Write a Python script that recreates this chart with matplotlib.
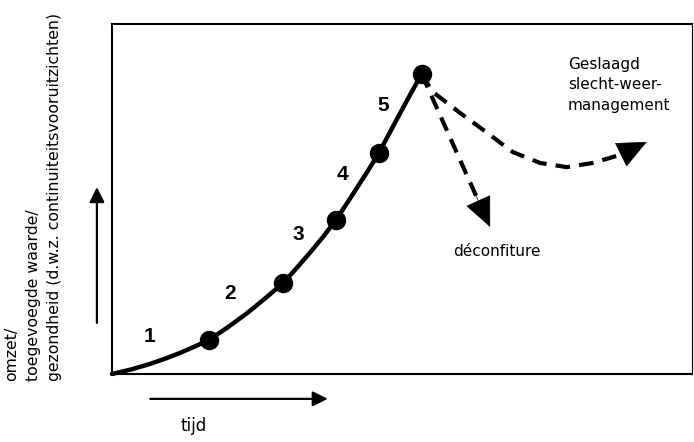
import matplotlib
matplotlib.use("Agg")
import matplotlib.pyplot as plt

# groeicurve (tijd, gezondheid) in willekeurige eenheden 0..10
curve_t = [0.0, 0.33, 0.66, 0.92, 1.17, 1.42, 1.67, 2.00, 2.33, 2.64, 2.95,
           3.18, 3.41, 3.64, 3.86, 4.04, 4.22, 4.41, 4.60, 4.78, 4.97, 5.15, 5.34]
curve_y = [0.0, 0.13, 0.29, 0.44, 0.60, 0.78, 0.97, 1.34, 1.74, 2.16, 2.60,
           3.02, 3.46, 3.92, 4.40, 4.85, 5.31, 5.80, 6.31, 6.87, 7.46, 8.01, 8.57]

# fasen 1..5 (punten op de curve) en positie van de nummers
fase_t = [1.67, 2.95, 3.86, 4.60, 5.34]
fase_y = [0.97, 2.60, 4.40, 6.31, 8.57]
fase_labels = ["1", "2", "3", "4", "5"]
label_t = [0.64, 2.03, 3.21, 3.98, 4.67]
label_y = [1.06, 2.31, 4.00, 5.71, 7.66]

# scenario's na de top
decon_t = [5.34, 6.28]
decon_y = [8.57, 5.08]
decon_tip = (6.52, 4.20)

succes_t = [5.34, 5.53, 6.00, 6.47, 6.91, 7.38, 7.84, 8.29, 8.78]
succes_y = [8.57, 8.06, 7.46, 6.89, 6.34, 6.03, 5.91, 6.03, 6.27]
succes_tip = (9.22, 6.63)

ylabel = "omzet/\ntoegevoegde waarde/\ngezondheid (d.w.z. continuiteitsvooruitzichten)"

fig = plt.figure(figsize=(6.94, 4.42), dpi=100)
ax = fig.add_axes([112 / 694, 68 / 442, 580 / 694, 350 / 442])
ax.set_xlim(0, 10)
ax.set_ylim(0, 10)
ax.set_xticks([])
ax.set_yticks([])
for s in ax.spines.values():
    s.set_linewidth(1.5)
ax.spines["right"].set_linewidth(0.8)

ax.plot(curve_t, curve_y, color="black", lw=3.2, solid_capstyle="round",
        solid_joinstyle="round", clip_on=False)
ax.plot(fase_t, fase_y, "o", color="black", ms=13, clip_on=False)
for t, y, lab in zip(label_t, label_y, fase_labels):
    ax.text(t, y, lab, fontsize=15, fontweight="bold", family="Liberation Sans",
            ha="center", va="center")

dash = (0, (3.5, 2.2))
ax.plot(decon_t, decon_y, color="black", lw=3, linestyle=dash, dash_capstyle="butt")
ax.plot(succes_t, succes_y, color="black", lw=3, linestyle=dash, dash_capstyle="butt")

head = dict(arrowstyle="-|>,head_length=0.8,head_width=0.36", color="black",
            lw=0.5, shrinkA=0, shrinkB=0, mutation_scale=25)
ax.annotate("", xy=decon_tip, xytext=(decon_t[-1], decon_y[-1]), arrowprops=head)
ax.annotate("", xy=succes_tip, xytext=(succes_t[-1], succes_y[-1]), arrowprops=head)

ax.text(7.86, 9.06, "Geslaagd\nslecht-weer-\nmanagement", fontsize=11, ha="left",
        va="top", linespacing=1.45)
ax.text(6.64, 3.49, "déconfiture", fontsize=11, ha="center", va="center")
ax.text(1.40, -1.49, "tijd", fontsize=12, ha="center", va="center", clip_on=False)

# assen-pijlen buiten het kader
small = dict(arrowstyle="-|>,head_length=0.6,head_width=0.3", color="black",
             lw=1.6, shrinkA=0, shrinkB=0, mutation_scale=15)
ax.annotate("", xy=(3.72, -0.71), xytext=(0.66, -0.71), arrowprops=small,
            annotation_clip=False)
ax.annotate("", xy=(-0.26, 5.34), xytext=(-0.26, 1.46), arrowprops=small,
            annotation_clip=False)

ax.text(-1.86, -0.2, ylabel, rotation=90, fontsize=11.3, ha="left", va="bottom",
        multialignment="left", linespacing=1.55, clip_on=False)

fig.savefig("out.png", dpi=100)
